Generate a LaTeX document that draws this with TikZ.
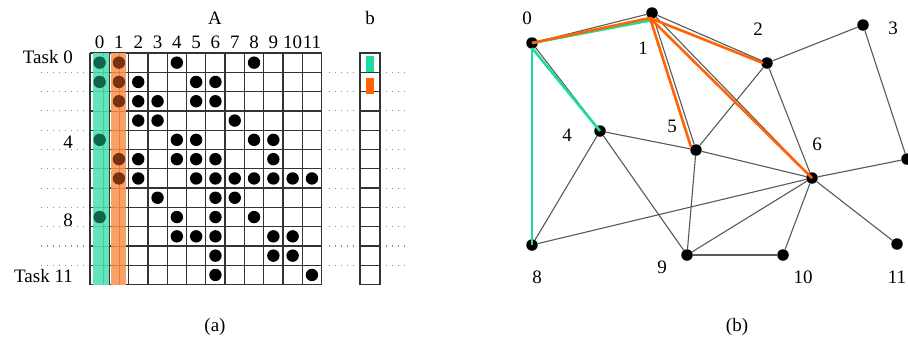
\documentclass[tikz,border=0pt]{standalone}
\usepackage{fontspec}
\setmainfont{Liberation Serif}
\definecolor{markgreen}{RGB}{30,220,160}
\definecolor{markorange}{RGB}{255,100,0}
\definecolor{greenband}{RGB}{100,228,188}
\definecolor{greenhatch}{RGB}{60,205,160}
\definecolor{orangeband}{RGB}{248,162,104}
\definecolor{orangehatch}{RGB}{238,122,55}
\definecolor{greendot}{RGB}{15,100,75}
\definecolor{orangedot}{RGB}{120,50,15}
\tikzset{
  gridline/.style={draw=black!80, line width=1.3pt},
  guide/.style={draw=black!45, line width=1.1pt, dash pattern=on 1.1pt off 4.9pt},
  vertex/.style={circle, fill=black, inner sep=0pt, minimum size=11.5pt},
  edge/.style={draw=black!65, line width=1.1pt},
  greenedge/.style={draw=markgreen, line width=2.6pt},
  orangeedge/.style={draw=markorange, line width=2.6pt},
  lbl/.style={inner sep=0pt},
}
\begin{document}
\begin{tikzpicture}[x=1pt, y=-1pt, font=\fontsize{19}{21}\selectfont]
\useasboundingbox (0,0) rectangle (908,349);

% ---------- (a) matrix A ----------
\def\cs{19.3}
\foreach \i in {0,...,12} {
  \draw[gridline] ({90+\i*\cs},53) -- ({90+\i*\cs},{53+12*\cs});
  \draw[gridline] (90,{53+\i*\cs}) -- ({90+12*\cs},{53+\i*\cs});
}
% nonzero entries, row by row
\foreach \r/\cols in {0/{4,8}, 1/{2,5,6}, 2/{2,3,5,6}, 3/{2,3,7},
    4/{4,5,8,9}, 5/{2,4,5,6,9}, 6/{2,5,6,7,8,9,10,11}, 7/{3,6,7},
    8/{4,6,8}, 9/{4,5,6,9,10}, 10/{6,9,10}, 11/{6,11}} {
  \foreach \c in \cols {
    \fill ({90+(\c+0.5)*\cs},{53+(\r+0.5)*\cs}) circle[radius=6.2pt];
  }
}
% highlighted columns 0 and 1
\fill[greenband] (92.5,53) rectangle (108.5,{53+12*\cs});
\fill[orangeband] (110.5,53) rectangle (125.5,{53+12*\cs});
\foreach \i in {1,...,11} {
  \draw[greenhatch, line width=0.7pt] (92.5,{53+\i*\cs}) -- (108.5,{53+\i*\cs});
  \draw[orangehatch, line width=0.7pt] (110.5,{53+\i*\cs}) -- (125.5,{53+\i*\cs});
}
\draw[greenhatch, line width=0.7pt] (103.5,53) -- (103.5,{53+12*\cs});
\draw[orangehatch, line width=0.7pt] (119.5,53) -- (119.5,{53+12*\cs});
\foreach \r in {0,1,4,8}
  \fill[greendot] ({90+0.5*\cs},{53+(\r+0.5)*\cs}) circle[radius=6.2pt];
\foreach \r in {0,1,2,5,6}
  \fill[orangedot] ({90+1.5*\cs},{53+(\r+0.5)*\cs}) circle[radius=6.2pt];

% column indices and title
\foreach \c in {0,...,11}
  \node[lbl] (col\c) at ({90+(\c+0.5)*\cs},42) {\c};
\node[lbl] (titleA) at (215,18) {A};

% row labels
\node[lbl, anchor=east] (task0) at (73,57) {Task 0};
\node[lbl, anchor=east] (row4) at (73,142) {4};
\node[lbl, anchor=east] (row8) at (73,220) {8};
\node[lbl, anchor=east] (task11) at (73,276) {Task 11};

% vector b
\foreach \i in {0,...,11}
  \draw[gridline] (360,{53+\i*\cs}) rectangle (380,{53+(\i+1)*\cs});
\fill[markgreen] (366,56) rectangle (374,72);
\fill[markorange] (366,78) rectangle (374,94);
\node[lbl] (titleb) at (370,18) {b};

% dotted row guides
\foreach \i in {1,...,11} {
  \draw[guide] (41,{53+\i*\cs}) -- (88,{53+\i*\cs});
  \draw[guide] (329,{53+\i*\cs}) -- (357,{53+\i*\cs});
  \draw[guide] (386,{53+\i*\cs}) -- (406,{53+\i*\cs});
}

\node[lbl] (capa) at (215,327) {(a)};

% ---------- (b) graph ----------
\node[vertex] (n0) at (532,43) {};
\node[vertex] (n1) at (652,13) {};
\node[vertex] (n2) at (767,63) {};
\node[vertex] (n3) at (863,25) {};
\node[vertex] (n4) at (600,131) {};
\node[vertex] (n5) at (696,150) {};
\node[vertex] (n6) at (812,178) {};
\node[vertex] (n7) at (907,159) {};
\node[vertex] (n8) at (532,245) {};
\node[vertex] (n9) at (687,255) {};
\node[vertex] (n10) at (783,255) {};
\node[vertex] (n11) at (897,244) {};

\foreach \a/\b in {0/1,0/4,0/8,1/2,1/5,1/6,2/3,2/5,2/6,3/7,4/5,4/8,4/9,
    5/6,5/9,6/7,6/8,6/9,6/10,6/11,9/10}
  \draw[edge] (n\a) -- (n\b);

\node[lbl] (l0) at (527,18) {0};
\node[lbl] (l1) at (643,48) {1};
\node[lbl] (l2) at (758,29) {2};
\node[lbl] (l3) at (893,28) {3};
\node[lbl] (l4) at (567,135) {4};
\node[lbl] (l5) at (672,126) {5};
\node[lbl] (l6) at (817,144) {6};
\node[lbl] (l8) at (537,277) {8};
\node[lbl] (l9) at (662,267) {9};
\node[lbl] (l10) at (803,277) {10};
\node[lbl] (l11) at (897,277) {11};

% neighbourhoods of vertices 0 and 1
\coordinate (g0) at ([yshift=-5pt]n0.center);
\coordinate (g1) at ([xshift=-2pt,yshift=-7.5pt]n1.center);
\coordinate (o1) at ([xshift=-2pt,yshift=-5pt]n1.center);
\coordinate (o2) at ([xshift=-4pt]n2.center);
\coordinate (o5) at ([xshift=-5pt,yshift=3pt]n5.center);
\draw[greenedge] (g0) -- (n8.center);
\draw[greenedge] (g0) -- (n4.center);
\draw[greenedge] (n0.center) -- (g1);
\draw[orangeedge] (o1) -- (n0.center);
\draw[orangeedge] (o1) -- (o2);
\draw[orangeedge] (o1) -- (o5);
\draw[orangeedge] (o1) -- (n6.center);

\node[lbl] (capb) at (737,327) {(b)};
\end{tikzpicture}
\end{document}
